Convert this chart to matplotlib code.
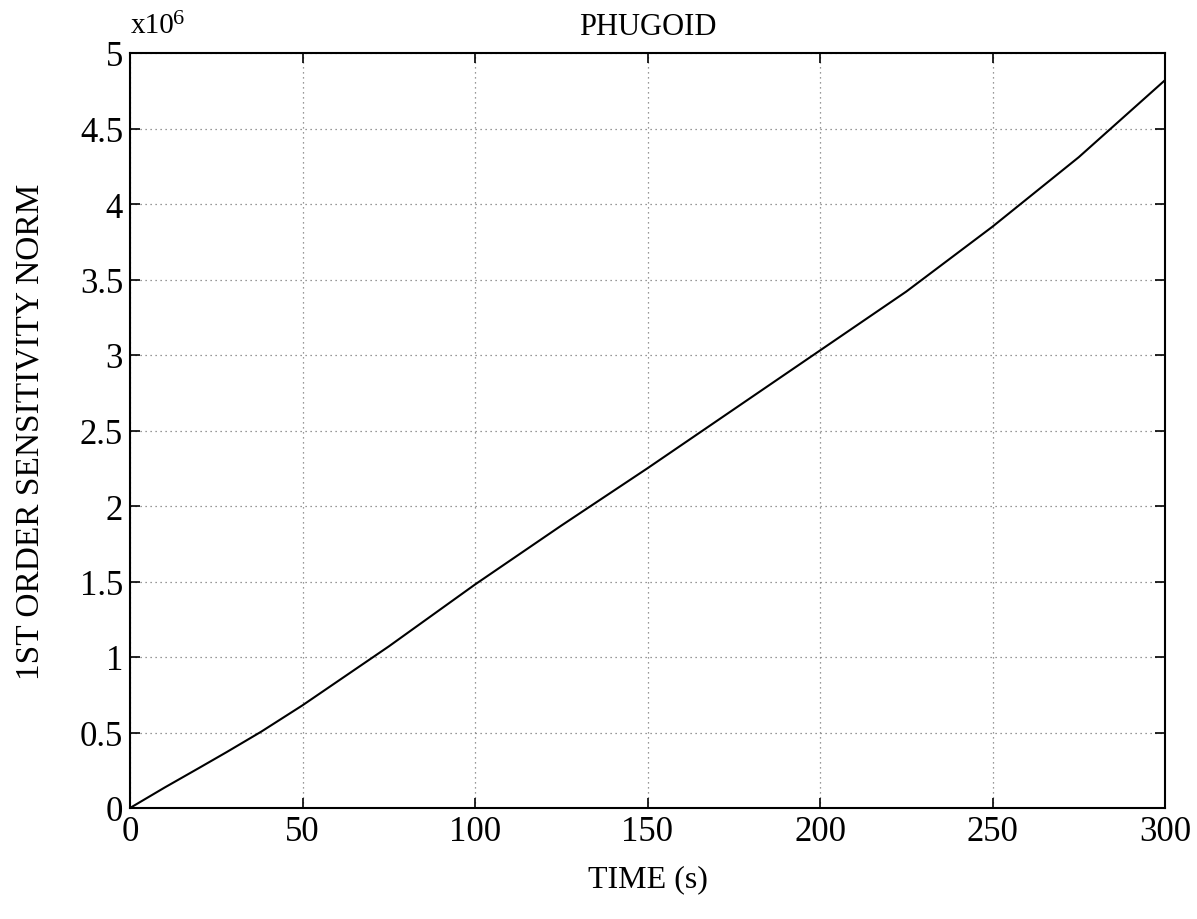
import matplotlib
matplotlib.use("Agg")
import matplotlib.pyplot as plt
import numpy as np

plt.rcParams['font.family'] = ['Liberation Serif', 'DejaVu Serif']

time_s = [0, 10, 20, 28, 38, 50, 75, 100, 125, 150, 175, 200, 225, 250, 275, 300]
norm_e6 = [0.0, 0.135, 0.265, 0.37, 0.505, 0.68, 1.07, 1.48, 1.87, 2.25, 2.64, 3.03, 3.42, 3.85, 4.31, 4.82]

x_ticks = [0, 50, 100, 150, 200, 250, 300]
y_ticks = [0, 0.5, 1, 1.5, 2, 2.5, 3, 3.5, 4, 4.5, 5]
y_tick_labels = ['0', '0.5', '1', '1.5', '2', '2.5', '3', '3.5', '4', '4.5', '5']

fig = plt.figure(figsize=(11.97, 9.2), dpi=100)
ax = fig.add_axes([130/1197, 1 - 809/920, (1165-130)/1197, (809-54)/920])

ax.plot(time_s, norm_e6, color='black', linewidth=1.5)

ax.set_xlim(0, 300)
ax.set_ylim(0, 5)
ax.set_xticks(x_ticks)
ax.set_xticklabels([str(v) for v in x_ticks])
ax.set_yticks(y_ticks)
ax.set_yticklabels(y_tick_labels)
ax.tick_params(direction='in', length=7, width=1.2, labelsize=25, top=True, right=True, pad=5)
ax.grid(True, linestyle=(0, (1, 3)), color='#777777', linewidth=0.9)
for s in ax.spines.values():
    s.set_linewidth(1.5)
    s.set_color('black')

ax.set_title('PHUGOID', fontsize=22, pad=14)
ax.set_xlabel('TIME (s)', fontsize=23, labelpad=12)
ax.set_ylabel('1ST ORDER SENSITIVITY NORM', fontsize=24, labelpad=25)

fig.text(131/1197, 1 - 26/920, 'x10', fontsize=21, ha='left', va='center')
fig.text(173/1197, 1 - 19/920, '6', fontsize=16, ha='left', va='center')

fig.savefig('out.png', dpi=100)
